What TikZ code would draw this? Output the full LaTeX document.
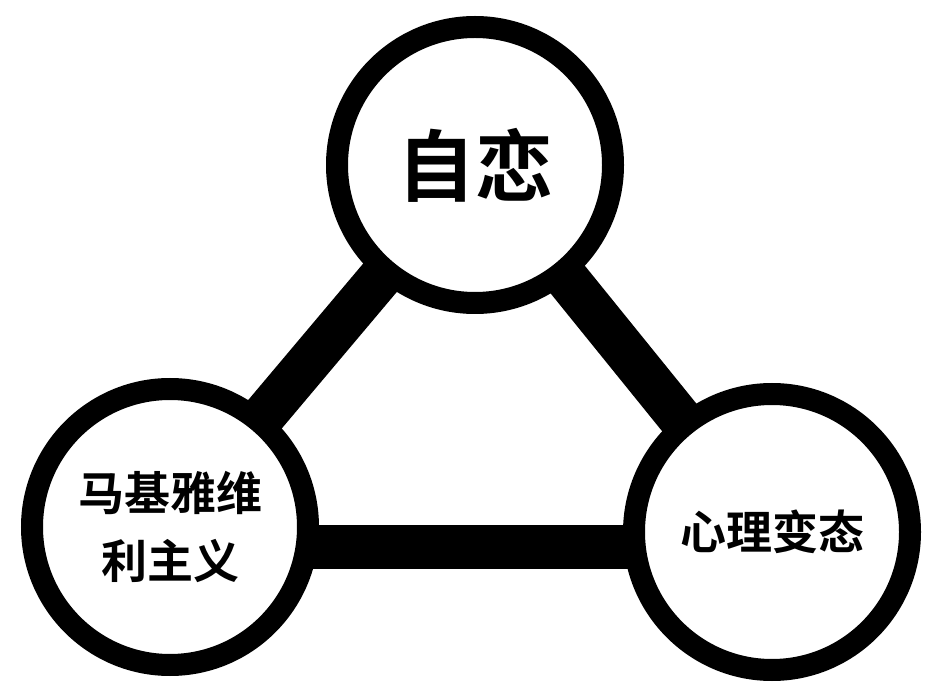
\documentclass[tikz,border=0pt]{standalone}
\usepackage{fontspec}
\newfontfamily\cjk{Noto Sans CJK SC Bold}
\begin{document}
\begin{tikzpicture}[x=1pt,y=-1pt,
  ring/.style={circle,draw=black,line width=22pt,fill=white,minimum size=276pt,inner sep=0pt,align=center,font=\cjk},
  bar/.style={line width=44pt,black}]
\useasboundingbox (0,0) rectangle (943,700);
\coordinate (tc) at (475,165);
\coordinate (lc) at (170,527);
\coordinate (rc) at (772,532);
\draw[bar] (tc) -- (lc);
\draw[bar] (tc) -- (rc);
\draw[bar] (170,547) -- (772,547);
\node[ring,font=\cjk\fontsize{78}{80}\selectfont] (t) at (tc) {自恋};
\node[ring,font=\cjk\fontsize{46}{68}\selectfont] (l) at (lc) {马基雅维\\利主义};
\node[ring,font=\cjk\fontsize{46}{50}\selectfont] (r) at (rc) {心理变态};
\end{tikzpicture}
\end{document}
